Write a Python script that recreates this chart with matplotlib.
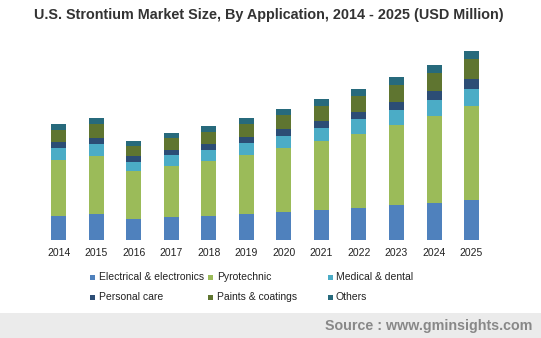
import matplotlib
matplotlib.use("Agg")
import matplotlib.pyplot as plt
from matplotlib.patches import Rectangle
import numpy as np

years = ["2014", "2015", "2016", "2017", "2018", "2019", "2020",
         "2021", "2022", "2023", "2024", "2025"]

electrical = [24, 26, 21, 23, 24, 26, 28, 30, 32, 35, 37, 40]
pyrotechnic = [56, 58, 48, 51, 55, 59, 64, 69, 74, 80, 87, 94]
medical = [12, 12, 9, 11, 11, 12, 12, 13, 15, 15, 16, 17]
personal = [6, 6, 6, 5, 6, 6, 7, 7, 7, 8, 9, 10]
paints = [12, 14, 10, 12, 12, 13, 14, 15, 16, 17, 18, 20]
others = [6, 6, 5, 5, 6, 6, 6, 7, 7, 8, 8, 8]

series = [
    ("Electrical & electronics", electrical, "#4F81BD"),
    ("Pyrotechnic", pyrotechnic, "#9BBB59"),
    ("Medical & dental", medical, "#4BACC6"),
    ("Personal care", personal, "#2C4D75"),
    ("Paints & coatings", paints, "#5F7530"),
    ("Others", others, "#276A7C"),
]

plt.rcParams["font.family"] = ["Liberation Sans", "DejaVu Sans"]

W, H = 541, 338
fig = plt.figure(figsize=(W / 100, H / 100), dpi=100)

# plot area in pixel terms: baseline at y=240, top at y=40
ax = fig.add_axes([40 / W, (H - 240) / H, (490.3 - 40) / W, 200 / H])
x = np.arange(len(years))
bottom = np.zeros(len(years))
for name, vals, color in series:
    ax.bar(x, vals, width=0.4, bottom=bottom, color=color, label=name,
           linewidth=0)
    bottom += np.array(vals)

ax.set_xlim(-0.5, len(years) - 0.5)
ax.set_ylim(0, 200)
ax.set_xticks(x)
ax.set_xticklabels(years, fontsize=7.5, color="#222222")
ax.tick_params(axis="x", length=0, pad=6)
ax.set_yticks([])
for s in ax.spines.values():
    s.set_visible(False)

fig.text(269 / W, 1 - 15 / H,
         "U.S. Strontium Market Size, By Application, 2014 - 2025 (USD Million)",
         ha="center", va="center", fontsize=10.35, fontweight="bold",
         color="#333333")

# legend laid out in two rows of three
col_x = [92.7, 210.7, 330]
row_y = [277, 297]
for i, (name, vals, color) in enumerate(series):
    cx = col_x[i % 3]
    cy = row_y[i // 3]
    fig.patches.append(Rectangle(((cx - 2.5) / W, 1 - (cy + 2.5) / H),
                                 5 / W, 5 / H, transform=fig.transFigure,
                                 facecolor=color, edgecolor="none"))
    fig.text((cx + 6) / W, 1 - cy / H, name, ha="left", va="center",
             fontsize=7.5, color="#222222")

# source band at the bottom
fig.patches.append(Rectangle((0, 0), 1, (H - 312.5) / H,
                             transform=fig.transFigure,
                             facecolor="#EBEBEB", edgecolor="none"))
fig.text(532 / W, 1 - 326 / H, "Source : www.gminsights.com",
         ha="right", va="center", fontsize=10.3, fontweight="bold",
         color="#888888")

fig.savefig("out.png", dpi=100)
